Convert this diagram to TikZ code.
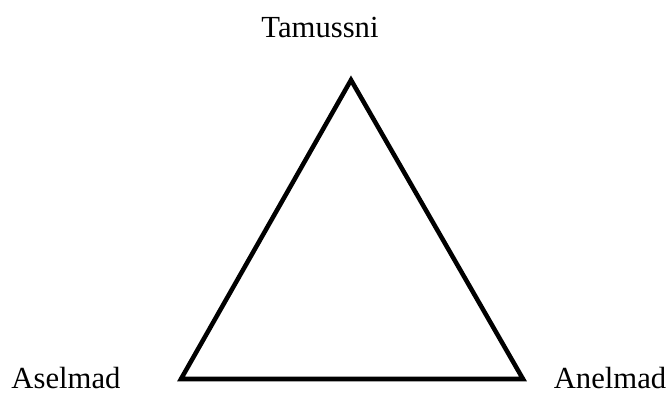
\documentclass[tikz,border=0pt]{standalone}
\usepackage{fontspec}
\setmainfont{Liberation Serif}
\begin{document}
\begin{tikzpicture}[x=0.75pt,y=-0.75pt,
    vertexlabel/.style={anchor=base,inner sep=0pt,font=\fontsize{23}{27}\selectfont}]
  		\useasboundingbox (0,0) rectangle (669,394);
  		\coordinate (top) at (351,80);
  		\coordinate (left) at (181,379);
  		\coordinate (right) at (523,379);
  		\draw[line width=3.4pt,miter limit=10] (top) -- (left) -- (right) -- cycle;
  		\node[vertexlabel] (tamussni) at (320,37) {Tamussni};
  		\node[vertexlabel] (aselmad) at (66,388) {Aselmad};
  		\node[vertexlabel] (anelmad) at (610,388) {Anelmad};
  	\end{tikzpicture}
\end{document}
